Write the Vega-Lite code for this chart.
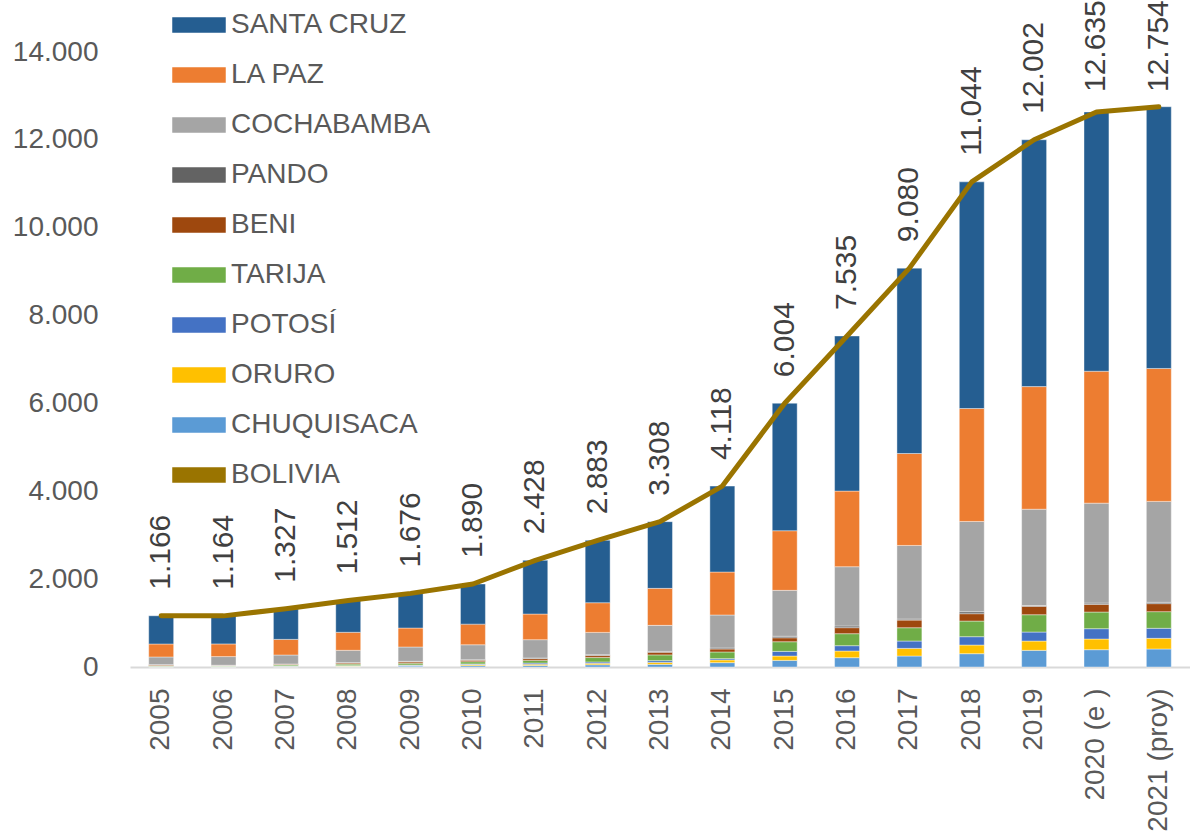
{
  "$schema": "https://vega.github.io/schema/vega-lite/v6.json",
  "width": 1060,
  "height": 615,
  "autosize": {"type": "none"},
  "padding": {"left": 130, "top": 52, "right": 0, "bottom": 173},
  "config": {
    "view": {"stroke": null},
    "font": "Liberation Sans",
    "locale": {"number": {"decimal": ",", "thousands": ".", "grouping": [3], "currency": ["", ""]}}
  },
  "data": {
    "values": [
      {"year": "2005", "CHUQUISACA": 5, "ORURO": 5, "POTOSÍ": 5, "TARIJA": 15, "BENI": 20, "PANDO": 3, "COCHABAMBA": 175, "LA PAZ": 296, "SANTA CRUZ": 642, "BOLIVIA": 1166},
      {"year": "2006", "CHUQUISACA": 5, "ORURO": 4, "POTOSÍ": 4, "TARIJA": 12, "BENI": 12, "PANDO": 3, "COCHABAMBA": 197, "LA PAZ": 288, "SANTA CRUZ": 639, "BOLIVIA": 1164},
      {"year": "2007", "CHUQUISACA": 8, "ORURO": 6, "POTOSÍ": 6, "TARIJA": 25, "BENI": 20, "PANDO": 3, "COCHABAMBA": 205, "LA PAZ": 356, "SANTA CRUZ": 698, "BOLIVIA": 1327},
      {"year": "2008", "CHUQUISACA": 15, "ORURO": 8, "POTOSÍ": 8, "TARIJA": 35, "BENI": 25, "PANDO": 8, "COCHABAMBA": 281, "LA PAZ": 410, "SANTA CRUZ": 722, "BOLIVIA": 1512},
      {"year": "2009", "CHUQUISACA": 20, "ORURO": 15, "POTOSÍ": 12, "TARIJA": 40, "BENI": 30, "PANDO": 12, "COCHABAMBA": 326, "LA PAZ": 432, "SANTA CRUZ": 789, "BOLIVIA": 1676},
      {"year": "2010", "CHUQUISACA": 30, "ORURO": 25, "POTOSÍ": 15, "TARIJA": 50, "BENI": 35, "PANDO": 10, "COCHABAMBA": 341, "LA PAZ": 470, "SANTA CRUZ": 914, "BOLIVIA": 1890},
      {"year": "2011", "CHUQUISACA": 35, "ORURO": 30, "POTOSÍ": 25, "TARIJA": 60, "BENI": 40, "PANDO": 15, "COCHABAMBA": 417, "LA PAZ": 584, "SANTA CRUZ": 1222, "BOLIVIA": 2428},
      {"year": "2012", "CHUQUISACA": 50, "ORURO": 35, "POTOSÍ": 30, "TARIJA": 100, "BENI": 45, "PANDO": 20, "COCHABAMBA": 508, "LA PAZ": 675, "SANTA CRUZ": 1420, "BOLIVIA": 2883},
      {"year": "2013", "CHUQUISACA": 60, "ORURO": 45, "POTOSÍ": 40, "TARIJA": 130, "BENI": 60, "PANDO": 21, "COCHABAMBA": 592, "LA PAZ": 842, "SANTA CRUZ": 1518, "BOLIVIA": 3308},
      {"year": "2014", "CHUQUISACA": 99, "ORURO": 61, "POTOSÍ": 30, "TARIJA": 152, "BENI": 68, "PANDO": 23, "COCHABAMBA": 751, "LA PAZ": 978, "SANTA CRUZ": 1956, "BOLIVIA": 4118},
      {"year": "2015", "CHUQUISACA": 150, "ORURO": 100, "POTOSÍ": 105, "TARIJA": 220, "BENI": 90, "PANDO": 35, "COCHABAMBA": 1045, "LA PAZ": 1357, "SANTA CRUZ": 2902, "BOLIVIA": 6004},
      {"year": "2016", "CHUQUISACA": 212, "ORURO": 152, "POTOSÍ": 121, "TARIJA": 273, "BENI": 137, "PANDO": 38, "COCHABAMBA": 1350, "LA PAZ": 1722, "SANTA CRUZ": 3530, "BOLIVIA": 7535},
      {"year": "2017", "CHUQUISACA": 250, "ORURO": 174, "POTOSÍ": 167, "TARIJA": 303, "BENI": 174, "PANDO": 23, "COCHABAMBA": 1676, "LA PAZ": 2093, "SANTA CRUZ": 4220, "BOLIVIA": 9080},
      {"year": "2018", "CHUQUISACA": 303, "ORURO": 197, "POTOSÍ": 190, "TARIJA": 356, "BENI": 167, "PANDO": 45, "COCHABAMBA": 2055, "LA PAZ": 2571, "SANTA CRUZ": 5160, "BOLIVIA": 11044},
      {"year": "2019", "CHUQUISACA": 379, "ORURO": 212, "POTOSÍ": 205, "TARIJA": 394, "BENI": 190, "PANDO": 20, "COCHABAMBA": 2192, "LA PAZ": 2791, "SANTA CRUZ": 5619, "BOLIVIA": 12002},
      {"year": "2020 (e )", "CHUQUISACA": 394, "ORURO": 243, "POTOSÍ": 235, "TARIJA": 379, "BENI": 174, "PANDO": 30, "COCHABAMBA": 2275, "LA PAZ": 3003, "SANTA CRUZ": 5902, "BOLIVIA": 12635},
      {"year": "2021 (proy)", "CHUQUISACA": 410, "ORURO": 243, "POTOSÍ": 228, "TARIJA": 379, "BENI": 182, "PANDO": 30, "COCHABAMBA": 2298, "LA PAZ": 3026, "SANTA CRUZ": 5958, "BOLIVIA": 12754}
    ]
  },
  "encoding": {
    "x": {
      "field": "year",
      "type": "nominal",
      "sort": null,
      "scale": {"paddingInner": 0.6, "paddingOuter": 0.3},
      "axis": {
        "title": null,
        "labelAngle": -90,
        "labelAlign": "right",
        "labelBaseline": "middle",
        "labelFontSize": 28,
        "labelColor": "#595959",
        "labelPadding": 21,
        "ticks": false,
        "domainColor": "#D9D9D9",
        "domainWidth": 2,
        "grid": false
      }
    }
  },
  "layer": [
    {
      "transform": [
        {"fold": ["CHUQUISACA", "ORURO", "POTOSÍ", "TARIJA", "BENI", "PANDO", "COCHABAMBA", "LA PAZ", "SANTA CRUZ"], "as": ["dept", "value"]},
        {"window": [{"op": "row_number", "as": "k"}], "groupby": ["year"]}
      ],
      "mark": {"type": "bar", "stroke": "#ffffff", "strokeWidth": 0.4},
      "encoding": {
        "y": {
          "field": "value",
          "type": "quantitative",
          "stack": "zero",
          "scale": {"domain": [0, 14000], "nice": false},
          "axis": {
            "title": null,
            "values": [0, 2000, 4000, 6000, 8000, 10000, 12000, 14000],
            "format": ",d",
            "grid": false,
            "domain": false,
            "ticks": false,
            "labelFontSize": 28,
            "labelColor": "#595959",
            "labelPadding": 32
          }
        },
        "order": {"field": "k", "type": "quantitative", "sort": "ascending"},
        "color": {
          "field": "dept",
          "type": "nominal",
          "scale": {
            "domain": ["SANTA CRUZ", "LA PAZ", "COCHABAMBA", "PANDO", "BENI", "TARIJA", "POTOSÍ", "ORURO", "CHUQUISACA", "BOLIVIA"],
            "range": ["#255E91", "#ED7D31", "#A5A5A5", "#636363", "#9E480E", "#70AD47", "#4472C4", "#FFC000", "#5B9BD5", "#9A7400"]
          },
          "legend": {
            "title": null,
            "orient": "none",
            "legendX": 42,
            "legendY": -54,
            "padding": 0,
            "labelFontSize": 28,
            "labelColor": "#595959",
            "labelOffset": 5,
            "labelLimit": 400,
            "rowPadding": 9,
            "symbolSize": 2704,
            "symbolType": "M-1,-0.27H1V0.27H-1Z",
            "encode": {
              "symbols": {
                "update": {
                  "shape": {"signal": "datum.value === 'BOLIVIA' ? 'M-1,-0.1H1V0.1H-1Z' : 'M-1,-0.27H1V0.27H-1Z'"},
                  "fill": {"scale": "color", "field": "value"},
                  "stroke": {"value": "transparent"},
                  "opacity": {"value": 1},
                  "fillOpacity": {"value": 1}
                }
              }
            }
          }
        }
      }
    },
    {
      "transform": [
        {"fold": ["BOLIVIA"], "as": ["dept", "value"]}
      ],
      "mark": {"type": "line", "strokeWidth": 5, "strokeCap": "round", "strokeJoin": "round"},
      "encoding": {
        "y": {"field": "value", "type": "quantitative"},
        "color": {"field": "dept", "type": "nominal"}
      }
    },
    {
      "transform": [
        {"fold": ["BOLIVIA"], "as": ["dept", "value"]}
      ],
      "mark": {"type": "text", "angle": 270, "align": "left", "baseline": "middle", "dx": {"expr": "min(26, scale('y', datum.value) - 40)"}, "fontSize": 30, "color": "#404040"},
      "encoding": {
        "y": {"field": "value", "type": "quantitative"},
        "text": {"field": "value", "type": "quantitative", "format": ",d"}
      }
    }
  ]
}
